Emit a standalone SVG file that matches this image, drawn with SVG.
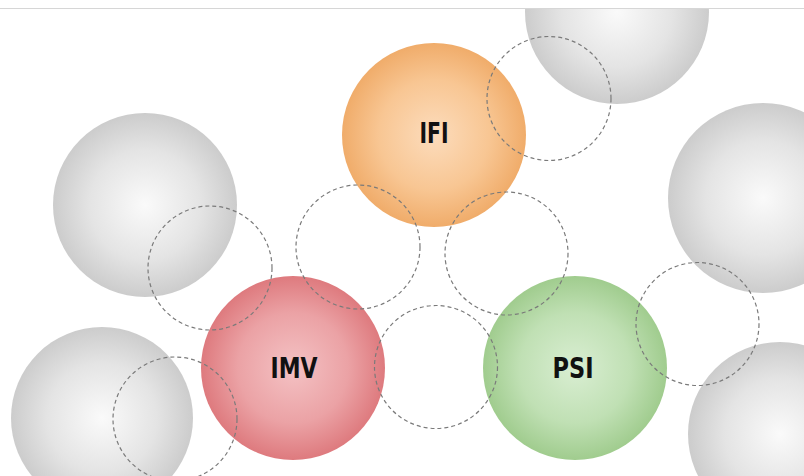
<svg xmlns="http://www.w3.org/2000/svg" width="804" height="476" viewBox="0 0 804 476">
<defs>
<radialGradient id="gGray" cx="0.5" cy="0.5" r="0.5">
<stop offset="0" stop-color="#fafafa"/>
<stop offset="0.6" stop-color="#e4e4e4"/>
<stop offset="1" stop-color="#cccccc"/>
</radialGradient>
<radialGradient id="gOrange" cx="0.5" cy="0.5" r="0.5">
<stop offset="0" stop-color="#fcdcbc"/>
<stop offset="0.6" stop-color="#f8c693"/>
<stop offset="1" stop-color="#f0ac6a"/>
</radialGradient>
<radialGradient id="gRed" cx="0.5" cy="0.5" r="0.5">
<stop offset="0" stop-color="#f4c2c4"/>
<stop offset="0.6" stop-color="#eba2a5"/>
<stop offset="1" stop-color="#de7a7e"/>
</radialGradient>
<radialGradient id="gGreen" cx="0.5" cy="0.5" r="0.5">
<stop offset="0" stop-color="#d9eed2"/>
<stop offset="0.6" stop-color="#c0e0b4"/>
<stop offset="1" stop-color="#a0cc8e"/>
</radialGradient>
</defs>
<style>
.gray{fill:url(#gGray)}
.dash{fill:none;stroke:#7a7a7a;stroke-width:1.2;stroke-dasharray:4 3}
.lbl{font-family:"DejaVu Sans Condensed","DejaVu Sans",sans-serif;font-stretch:condensed;font-weight:bold;font-size:29px;fill:#111;text-anchor:middle}
</style>
<rect width="804" height="476" fill="#ffffff"/>
<g id="spheres-gray">
<circle class="gray" cx="617" cy="12" r="92"/>
<circle class="gray" cx="145" cy="205" r="92"/>
<circle class="gray" cx="763" cy="198" r="95"/>
<circle class="gray" cx="102" cy="418" r="91"/>
<circle class="gray" cx="780" cy="434" r="92"/>
</g>
<rect x="0" y="0" width="804" height="8" fill="#ffffff"/>
<line x1="0" y1="8.5" x2="804" y2="8.5" stroke="#d6d6d6" stroke-width="1"/>
<g id="node-IFI">
<circle cx="434" cy="135" r="92" fill="url(#gOrange)"/>
<text class="lbl" x="434" y="143" textLength="29" lengthAdjust="spacingAndGlyphs">IFI</text>
</g>
<g id="node-IMV">
<circle cx="293" cy="368" r="92" fill="url(#gRed)"/>
<text class="lbl" x="294" y="378" textLength="47" lengthAdjust="spacingAndGlyphs">IMV</text>
</g>
<g id="node-PSI">
<circle cx="575" cy="368" r="92" fill="url(#gGreen)"/>
<text class="lbl" x="573" y="378" textLength="41" lengthAdjust="spacingAndGlyphs">PSI</text>
</g>
<g id="dashed-circles">
<circle class="dash" cx="549" cy="98.5" r="62"/>
<circle class="dash" cx="210" cy="268" r="62"/>
<circle class="dash" cx="358" cy="247" r="62"/>
<circle class="dash" cx="506.5" cy="253.5" r="61.5"/>
<circle class="dash" cx="436" cy="367" r="61.5"/>
<circle class="dash" cx="697.5" cy="324" r="61.5"/>
<circle class="dash" cx="175" cy="419" r="62"/>
</g>
</svg>
